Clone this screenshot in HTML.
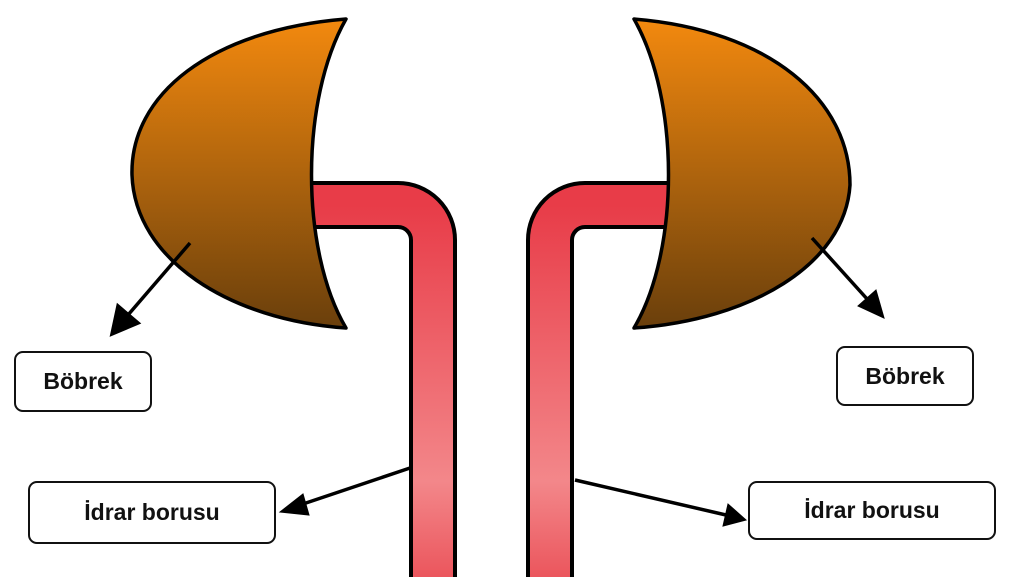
<!DOCTYPE html>
<html><head><style>
html,body{margin:0;padding:0;background:#fff;width:1024px;height:577px;overflow:hidden}
.lb{position:absolute;border:2.5px solid #111;border-radius:9px;background:#fff;font:bold 23px "Liberation Sans",sans-serif;color:#111;display:flex;align-items:center;justify-content:center;box-sizing:border-box}
</style></head><body>
<svg width="1024" height="577" style="position:absolute;left:0;top:0">
<defs>
<linearGradient id="k" x1="0" y1="0" x2="0" y2="1"><stop offset="0" stop-color="#f3890e"/><stop offset="1" stop-color="#6a3f0c"/></linearGradient>
<linearGradient id="t" x1="0" y1="0" x2="0" y2="1"><stop offset="0" stop-color="#e83c48"/><stop offset="0.7" stop-color="#f3878a"/><stop offset="1" stop-color="#e94a52"/></linearGradient>
<marker id="a" markerWidth="10" markerHeight="8" refX="9" refY="4" orient="auto" markerUnits="userSpaceOnUse" viewBox="0 0 10 8"><path d="M0,0 L10,4 L0,8z" fill="#000"/></marker>
</defs>
<g fill="none" stroke-linejoin="round">
<path d="M312,205 H398 A35,35 0 0 1 433,240 V600" stroke="#000" stroke-width="48"/>
<path d="M312,205 H398 A35,35 0 0 1 433,240 V600" stroke="url(#t)" stroke-width="40"/>
<path d="M672,205 H585 A35,35 0 0 0 550,240 V600" stroke="#000" stroke-width="48"/>
<path d="M672,205 H585 A35,35 0 0 0 550,240 V600" stroke="url(#t)" stroke-width="40"/>
</g>
<path d="M346,19 C210,30 130,95 132,175 C135,260 230,320 346,328 C300,250 300,100 346,19Z" fill="url(#k)" stroke="#000" stroke-width="3.5" stroke-linejoin="round"/>
<path d="M634,19 C770,30 850,100 850,185 C845,265 750,320 634,328 C680,250 680,100 634,19Z" fill="url(#k)" stroke="#000" stroke-width="3.5" stroke-linejoin="round"/>
<g stroke="#000" stroke-width="3.5">
<line x1="190" y1="243" x2="128" y2="315"/>
<polygon points="112,334 118,306 138,323" fill="#000"/>
<line x1="410" y1="468" x2="300" y2="505"/>
<polygon points="280,512 303,494 309,515" fill="#000" stroke-width="1"/>
<line x1="812" y1="238" x2="868" y2="300"/>
<polygon points="884,318 858,306 876,290" fill="#000" stroke-width="1"/>
<line x1="575" y1="480" x2="726" y2="515"/>
<polygon points="746,520 723,526 728,504" fill="#000" stroke-width="1"/>
</g>
</svg>
<div class="lb" style="left:14px;top:351px;width:138px;height:61px">Böbrek</div>
<div class="lb" style="left:28px;top:481px;width:248px;height:63px">İdrar borusu</div>
<div class="lb" style="left:836px;top:346px;width:138px;height:60px">Böbrek</div>
<div class="lb" style="left:748px;top:481px;width:248px;height:59px">İdrar borusu</div>
</body></html>
